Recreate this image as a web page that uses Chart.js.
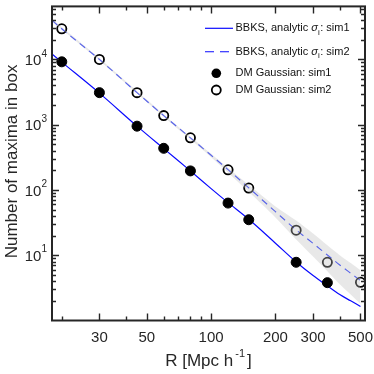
<!DOCTYPE html>
<html>
<head>
<meta charset="utf-8">
<script src="https://cdn.jsdelivr.net/npm/chart.js@4.4.0/dist/chart.umd.min.js"></script>
<style>
  html, body { margin: 0; padding: 0; background: #fff; }
  #wrap { width: 374px; height: 374px; }
</style>
</head>
<body>
<div id="wrap"><canvas id="c" width="374" height="374"></canvas></div>
<script>
// values
var simOneRadii = [20, 30, 45, 60, 80, 120, 150, 250, 350];
var simOnePeaks = [9200, 3100, 950, 435, 196, 63, 35, 7.8, 3.8];
var simTwoRadii = [20, 30, 45, 60, 80, 120, 150, 250, 350, 500];
var simTwoPeaks = [29500, 10000, 3100, 1380, 630, 204, 107, 24.2, 7.8, 3.85];

var curveRadii  = [18, 20, 30, 45, 60, 80, 100, 120, 150, 200, 250, 300, 350, 400, 450, 500];
var simOneCurve = [12100, 9100, 3050, 950, 430, 196, 105, 64, 35.5, 15.3, 7.9, 4.9, 3.4, 2.5, 2.0, 1.64];
var simTwoCurve = [39700, 29500, 10000, 3100, 1380, 630, 340, 205, 108, 46.5, 24.5, 15.2, 10.1, 7.1, 5.3, 4.1];

var bandRadii = [18, 30, 60, 100, 150, 200, 250, 300, 350, 400, 450, 500];
var bandUpper = [41500, 10400, 1440, 360, 120, 56, 34, 21.5, 14.2, 10, 7.6, 5.9];
var bandLower = [38000, 9600, 1320, 318, 94, 38, 17.5, 9.6, 5.7, 3.6, 2.5, 1.8];

var xTickLabels = [30, 50, 100, 200, 300, 500];
var xMinorTicks = [20, 40, 60, 70, 80, 90, 400];
var yTickExps = [1, 2, 3, 4];

var FONT = '"Liberation Sans", Arial, Helvetica, sans-serif';
var INK = '#262626';
var BLUE = '#0a0aff';

function pairs(xs, ys) {
  return ys.map(function(v, i) { return { x: xs[i], y: v }; });
}

var axesPlugin = {
  id: 'axesPlugin',
  afterDraw: function(chart) {
    var ctx = chart.ctx, a = chart.chartArea;
    var xs = chart.scales.x, ys = chart.scales.y;
    ctx.save();

    // inward ticks on all four sides
    ctx.strokeStyle = INK;
    ctx.lineWidth = 1.4;
    ctx.beginPath();
    xTickLabels.concat(xMinorTicks).forEach(function(v) {
      var len = xTickLabels.indexOf(v) >= 0 ? 7 : 4;
      var px = Math.round(xs.getPixelForValue(v)) + 0.5;
      ctx.moveTo(px, a.bottom); ctx.lineTo(px, a.bottom - len);
      ctx.moveTo(px, a.top); ctx.lineTo(px, a.top + len);
    });
    for (var e = 0; e < 5; e++) {
      for (var m = 1; m < 10; m++) {
        var v = m * Math.pow(10, e);
        if (v <= ys.min || v > ys.max) continue;
        var len = m === 1 ? 7 : 4;
        var py = Math.round(ys.getPixelForValue(v)) + 0.5;
        ctx.moveTo(a.left, py); ctx.lineTo(a.left + len, py);
        ctx.moveTo(a.right, py); ctx.lineTo(a.right - len, py);
      }
    }
    ctx.stroke();

    // frame
    ctx.lineWidth = 2;
    ctx.strokeRect(a.left, a.top, a.right - a.left, a.bottom - a.top);

    // y tick labels 10^n
    ctx.fillStyle = INK;
    ctx.textBaseline = 'middle';
    yTickExps.forEach(function(p) {
      var py = ys.getPixelForValue(Math.pow(10, p)) + 1.5;
      ctx.font = '10px ' + FONT;
      ctx.textAlign = 'right';
      var supW = ctx.measureText(String(p)).width;
      ctx.fillText(String(p), a.left - 5, py - 7);
      ctx.font = '15px ' + FONT;
      ctx.fillText('10', a.left - 5 - supW, py);
    });

    // axis titles
    ctx.textAlign = 'left';
    var base = 'R [Mpc h', tail = ']';
    ctx.font = '17px ' + FONT;
    var wBase = ctx.measureText(base).width;
    var wTail = ctx.measureText(tail).width;
    ctx.font = '11px ' + FONT;
    var wSup = ctx.measureText('-1').width;
    var total = wBase + 2 + wSup + 2 + wTail;
    var cx = (a.left + a.right) / 2;
    var x0 = cx - total / 2;
    ctx.font = '17px ' + FONT;
    ctx.fillText(base, x0, 361);
    ctx.font = '11px ' + FONT;
    ctx.fillText('-1', x0 + wBase + 2, 354);
    ctx.font = '17px ' + FONT;
    ctx.fillText(tail, x0 + wBase + 4 + wSup, 361);

    ctx.save();
    ctx.translate(12, (a.top + a.bottom) / 2 - 2);
    ctx.rotate(-Math.PI / 2);
    ctx.textAlign = 'center';
    ctx.fillText('Number of maxima in box', 0, 0);
    ctx.restore();

    // legend
    var tx = 235.5;
    ctx.textAlign = 'left';
    ctx.textBaseline = 'middle';
    function sigmaRow(y, label, dash) {
      ctx.save();
      ctx.strokeStyle = BLUE;
      ctx.lineWidth = dash ? 1.1 : 1.2;
      ctx.setLineDash(dash || []);
      ctx.beginPath(); ctx.moveTo(205, y); ctx.lineTo(233, y); ctx.stroke();
      ctx.restore();
      ctx.fillStyle = '#111';
      ctx.font = '11px ' + FONT;
      var s1 = 'BBKS, analytic ';
      ctx.fillText(s1, tx, y);
      var x = tx + ctx.measureText(s1).width;
      ctx.font = 'italic 11px ' + FONT;
      ctx.fillText('\u03c3', x, y);
      x += ctx.measureText('\u03c3').width;
      ctx.font = '8px ' + FONT;
      ctx.fillText('i', x, y + 4);
      x += ctx.measureText('i').width + 0.5;
      ctx.font = '11px ' + FONT;
      ctx.fillText(': ' + label, x, y);
    }
    sigmaRow(28.3, 'sim1', null);
    sigmaRow(51.7, 'sim2', [9, 6]);

    ctx.fillStyle = '#000';
    ctx.beginPath(); ctx.arc(216.3, 73.3, 4.8, 0, Math.PI * 2); ctx.fill();
    ctx.fillStyle = '#111';
    ctx.font = '11px ' + FONT;
    ctx.fillText('DM Gaussian: sim1', tx, 73.3);
    ctx.strokeStyle = '#000'; ctx.lineWidth = 1.8;
    ctx.beginPath(); ctx.arc(216.3, 90, 4.5, 0, Math.PI * 2); ctx.stroke();
    ctx.fillText('DM Gaussian: sim2', tx, 90);

    ctx.restore();
  }
};

new Chart(document.getElementById('c'), {
  type: 'line',
  data: {
    datasets: [
      {
        data: pairs(bandRadii, bandUpper), borderWidth: 0, pointRadius: 0,
        fill: '+1', backgroundColor: 'rgba(190,190,190,0.35)', order: 0, tension: 0.3
      },
      {
        data: pairs(bandRadii, bandLower), borderWidth: 0, pointRadius: 0,
        fill: false, order: 0, tension: 0.3
      },
      {
        data: pairs(curveRadii, simOneCurve), borderColor: BLUE, borderWidth: 1.2,
        pointRadius: 0, fill: false, cubicInterpolationMode: 'monotone', order: 2
      },
      {
        data: pairs(curveRadii, simTwoCurve), borderColor: '#2233ff', borderWidth: 1.1,
        borderDash: [7, 5], pointRadius: 0, fill: false, cubicInterpolationMode: 'monotone', order: 2
      },
      {
        data: pairs(simOneRadii, simOnePeaks), showLine: false, pointRadius: 5,
        pointBackgroundColor: '#000', pointBorderColor: '#000', pointBorderWidth: 1, order: 1
      },
      {
        data: pairs(simTwoRadii, simTwoPeaks), showLine: false, pointRadius: 4.6,
        pointBackgroundColor: 'rgba(0,0,0,0)', pointBorderColor: '#000', pointBorderWidth: 1.8, order: 1
      }
    ]
  },
  options: {
    responsive: false,
    animation: false,
    devicePixelRatio: 1,
    layout: { padding: { top: 4.5, right: 9, left: 0, bottom: 0 } },
    plugins: { legend: { display: false }, tooltip: { enabled: false } },
    scales: {
      x: {
        type: 'logarithmic', min: 18, max: 525,
        grid: { display: false, drawTicks: false },
        border: { display: false },
        afterBuildTicks: function(s) { s.ticks = xTickLabels.map(function(v) { return { value: v }; }); },
        afterFit: function(s) { s.height = 53.5; s.paddingLeft = 0; s.paddingRight = 0; },
        ticks: {
          autoSkip: false, maxRotation: 0, padding: 8,
          color: INK, font: { family: FONT, size: 15 },
          callback: function(v) { return String(v); }
        }
      },
      y: {
        type: 'logarithmic', min: 1, max: 65000,
        grid: { display: false, drawTicks: false },
        border: { display: false },
        ticks: { display: false },
        afterFit: function(s) { s.width = 52; s.paddingTop = 0; s.paddingBottom = 0; }
      }
    }
  },
  plugins: [axesPlugin]
});
</script>
</body>
</html>
